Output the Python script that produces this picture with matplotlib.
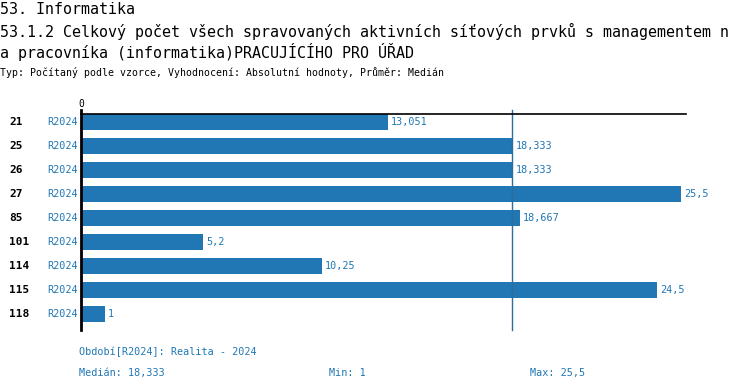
import matplotlib
matplotlib.use("Agg")
import matplotlib.pyplot as plt

categories = ["21", "25", "26", "27", "85", "101", "114", "115", "118"]
period = "R2024"
values = [13.051, 18.333, 18.333, 25.5, 18.667, 5.2, 10.25, 24.5, 1]
value_labels = ["13,051", "18,333", "18,333", "25,5", "18,667", "5,2", "10,25", "24,5", "1"]
median = 18.333
median_label = "18,333"
min_label = "1"
max_label = "25,5"

W, H = 750, 390
BLUE = "#2077b4"
MONO = "DejaVu Sans Mono"

fig = plt.figure(figsize=(W / 100, H / 100), dpi=100)

def fx(x):
    return x / W

def fy(y):
    return 1 - y / H

# axes: x 81..681 px maps 0..25.5 ; y 114..330 px
ax = fig.add_axes([fx(81), fy(330), (681 - 81) / W, (330 - 114) / H])
ax.set_xlim(0, 25.5)
n = len(categories)
ax.set_ylim(n - 1 + 0.667, -0.333)
ax.barh(range(n), values, height=0.667, color=BLUE, zorder=2)
for sp in ax.spines.values():
    sp.set_visible(False)
ax.set_xticks([])
ax.set_yticks([])
ax.patch.set_alpha(0)

# median line
ax.axvline(median, color="#2a6f9e", lw=1.0, ymin=0, ymax=1.02, clip_on=False, zorder=3)
# zero axis and top line
ax.axvline(0, color="black", lw=2.0, ymin=0, ymax=1.02, clip_on=False, zorder=4)
ax.plot([0, 25.7], [-0.333, -0.333], color="black", lw=1.2, clip_on=False, zorder=4)
ax.text(0, -0.55, "0", ha="center", va="bottom", fontsize=7, family=MONO, color="black")

for i, (v, lab) in enumerate(zip(values, value_labels)):
    ax.text(v + 0.13, i, lab, ha="left", va="center", fontsize=7.3, family=MONO, color=BLUE)

# row labels
for i, c in enumerate(categories):
    yc = 122 + 24 * i
    fig.text(fx(9), fy(yc), c, ha="left", va="center", fontsize=8, family=MONO,
             weight="bold", color="black")
    fig.text(fx(78), fy(yc), period, ha="right", va="center", fontsize=7.3, family=MONO,
             color=BLUE)

# titles
TS = 10.8
fig.text(fx(0), fy(9), "53. Informatika", ha="left", va="center", fontsize=TS, family=MONO)
fig.text(fx(0), fy(31), "53.1.2 Celkový počet všech spravovaných aktivních síťových prvků s managementem n",
         ha="left", va="center", fontsize=TS, family=MONO)
fig.text(fx(0), fy(52), "a pracovníka (informatika)PRACUJÍCÍHO PRO ÚŘAD",
         ha="left", va="center", fontsize=TS, family=MONO)
fig.text(fx(0), fy(73), "Typ: Počítaný podle vzorce, Vyhodnocení: Absolutní hodnoty, Průměr: Medián",
         ha="left", va="center", fontsize=7.1, family=MONO)

# footer
fig.text(fx(79), fy(352), "Období[R2024]: Realita - 2024", ha="left", va="center",
         fontsize=7.3, family=MONO, color=BLUE)
fig.text(fx(79), fy(373), "Medián: " + median_label, ha="left", va="center",
         fontsize=7.3, family=MONO, color=BLUE)
fig.text(fx(329), fy(373), "Min: " + min_label, ha="left", va="center",
         fontsize=7.3, family=MONO, color=BLUE)
fig.text(fx(530), fy(373), "Max: " + max_label, ha="left", va="center",
         fontsize=7.3, family=MONO, color=BLUE)

fig.savefig("out.png", dpi=100)
